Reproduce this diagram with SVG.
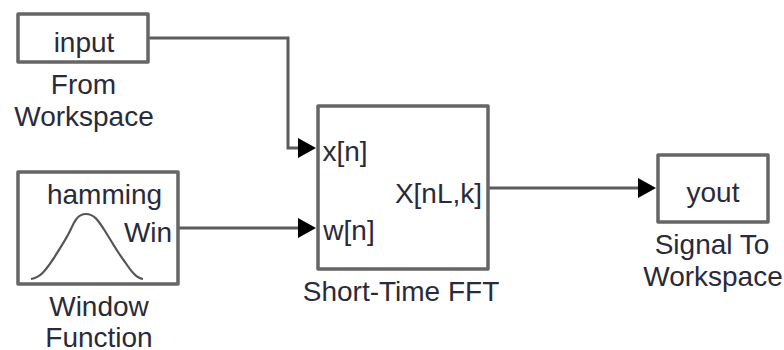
<svg xmlns="http://www.w3.org/2000/svg" width="784" height="350" viewBox="0 0 784 350">
<style>
text{font-family:"Liberation Sans",Arial,sans-serif;font-size:28px;fill:#2a2a3a;text-anchor:middle}
.b{fill:#fff;stroke:#666;stroke-width:3.5;stroke-linejoin:round}
.c{fill:none;stroke:#5c5c5c;stroke-width:3}
.a{fill:#000;stroke:none}
</style>
<rect width="784" height="350" fill="#fff"/>
<g id="connectors">
<path class="c" d="M148 38H288V148H300"/>
<polygon class="a" points="298,138 316,148 298,158"/>
<path class="c" d="M178 228H300"/>
<polygon class="a" points="298,218 316,228 298,238"/>
<path class="c" d="M489 188H640"/>
<polygon class="a" points="638,178 656,188 638,198"/>
</g>
<g id="from-workspace">
<rect class="b" x="18" y="14" width="130" height="48"/>
<text x="84" y="52">input</text>
<text x="83.500" y="94">From</text>
<text x="84" y="126">Workspace</text>
</g>
<g id="window-function">
<rect class="b" x="18" y="172" width="160" height="112"/>
<text x="104.500" y="204">hamming</text>
<text x="148" y="242">Win</text>
<path d="M31 279C42 277 47 268 54 258C60 248 65 241 70 231C75 220 78 214 86 214C94 214 98 220 105 231C112 242 118 253 125 262C131 271 136 278 143 279" fill="none" stroke="#555" stroke-width="2.2"/>
<text x="99" y="316">Window</text>
<text x="99" y="347">Function</text>
</g>
<g id="short-time-fft">
<rect class="b" x="318" y="106" width="170" height="163"/>
<text x="345" y="161">x[n]</text>
<text x="349" y="240">w[n]</text>
<text x="438.500" y="203">X[nL,k]</text>
<text x="401" y="301">Short-Time FFT</text>
</g>
<g id="signal-to-workspace">
<rect class="b" x="658" y="155" width="110" height="67"/>
<text x="713" y="202">yout</text>
<text x="712" y="254">Signal To</text>
<text x="713" y="286">Workspace</text>
</g>
</svg>
